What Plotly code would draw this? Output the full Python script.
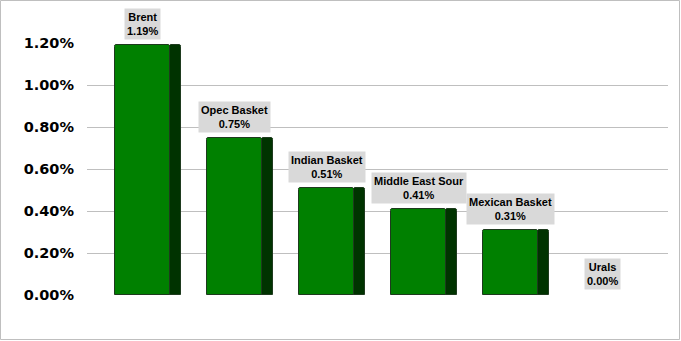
import plotly.graph_objects as go

categories = ["Brent", "Opec Basket", "Indian Basket", "Middle East Sour", "Mexican Basket", "Urals"]
values = [1.19, 0.75, 0.51, 0.41, 0.31, 0.00]
tick_vals = [0, 0.2, 0.4, 0.6, 0.8, 1.0, 1.2]
tick_text = ["0.00%", "0.20%", "0.40%", "0.60%", "0.80%", "1.00%", "1.20%"]

W, H = 681, 341
L, R, T, B = 87, 13, 43, 46
pw, ph = W - L - R, H - T - B
slot = 92
first = 142.5
xs = list(range(len(categories)))
x0 = (L - first) / slot
x1 = (W - R - first) / slot
lw = [1 if v > 0 else 0 for v in values]

fig = go.Figure()
fig.add_trace(go.Bar(
    x=xs, y=values, width=0.6, offset=-0.3,
    marker=dict(color="#008000", line=dict(color="#1e3a1e", width=lw), cornerradius=2),
    hoverinfo="skip", showlegend=False))
fig.add_trace(go.Bar(
    x=xs, y=values, width=0.12, offset=0.3,
    marker=dict(color="#003300", line=dict(color="#1e3a1e", width=lw), cornerradius=2),
    hoverinfo="skip", showlegend=False))

for i, (c, v) in enumerate(zip(categories, values)):
    fig.add_annotation(
        x=i, y=v, text=f"<b>{c}<br>{v:.2f}%</b>", showarrow=False,
        yanchor="bottom", yshift=5, bgcolor="#d9d9d9", borderpad=2,
        font=dict(family="Liberation Sans, Arial", size=11, color="black"))

fig.add_shape(type="rect", xref="paper", yref="paper",
              x0=(0.5 - L) / pw, x1=(W - 1.5 - L) / pw,
              y0=(H - B - (H - 1.5)) / ph, y1=(H - B - 0.5) / ph,
              line=dict(color="#bfbfbf", width=1), fillcolor="rgba(0,0,0,0)", layer="below")

fig.update_layout(
    width=W, height=H, margin=dict(l=L, r=R, t=T, b=B),
    paper_bgcolor="white", plot_bgcolor="white",
    barmode="overlay", bargap=0,
    xaxis=dict(range=[x0, x1], showticklabels=False, showgrid=False, zeroline=False,
               showline=False, ticks=""),
    yaxis=dict(range=[0, 1.2], tickvals=tick_vals, ticktext=tick_text,
               showgrid=True, gridcolor="#bfbfbf", gridwidth=1, zeroline=False,
               showline=False, ticks="", ticklabelstandoff=12,
               tickfont=dict(family="DejaVu Sans", size=14.5, color="black", weight="bold")),
)
fig.write_html("out.html")
